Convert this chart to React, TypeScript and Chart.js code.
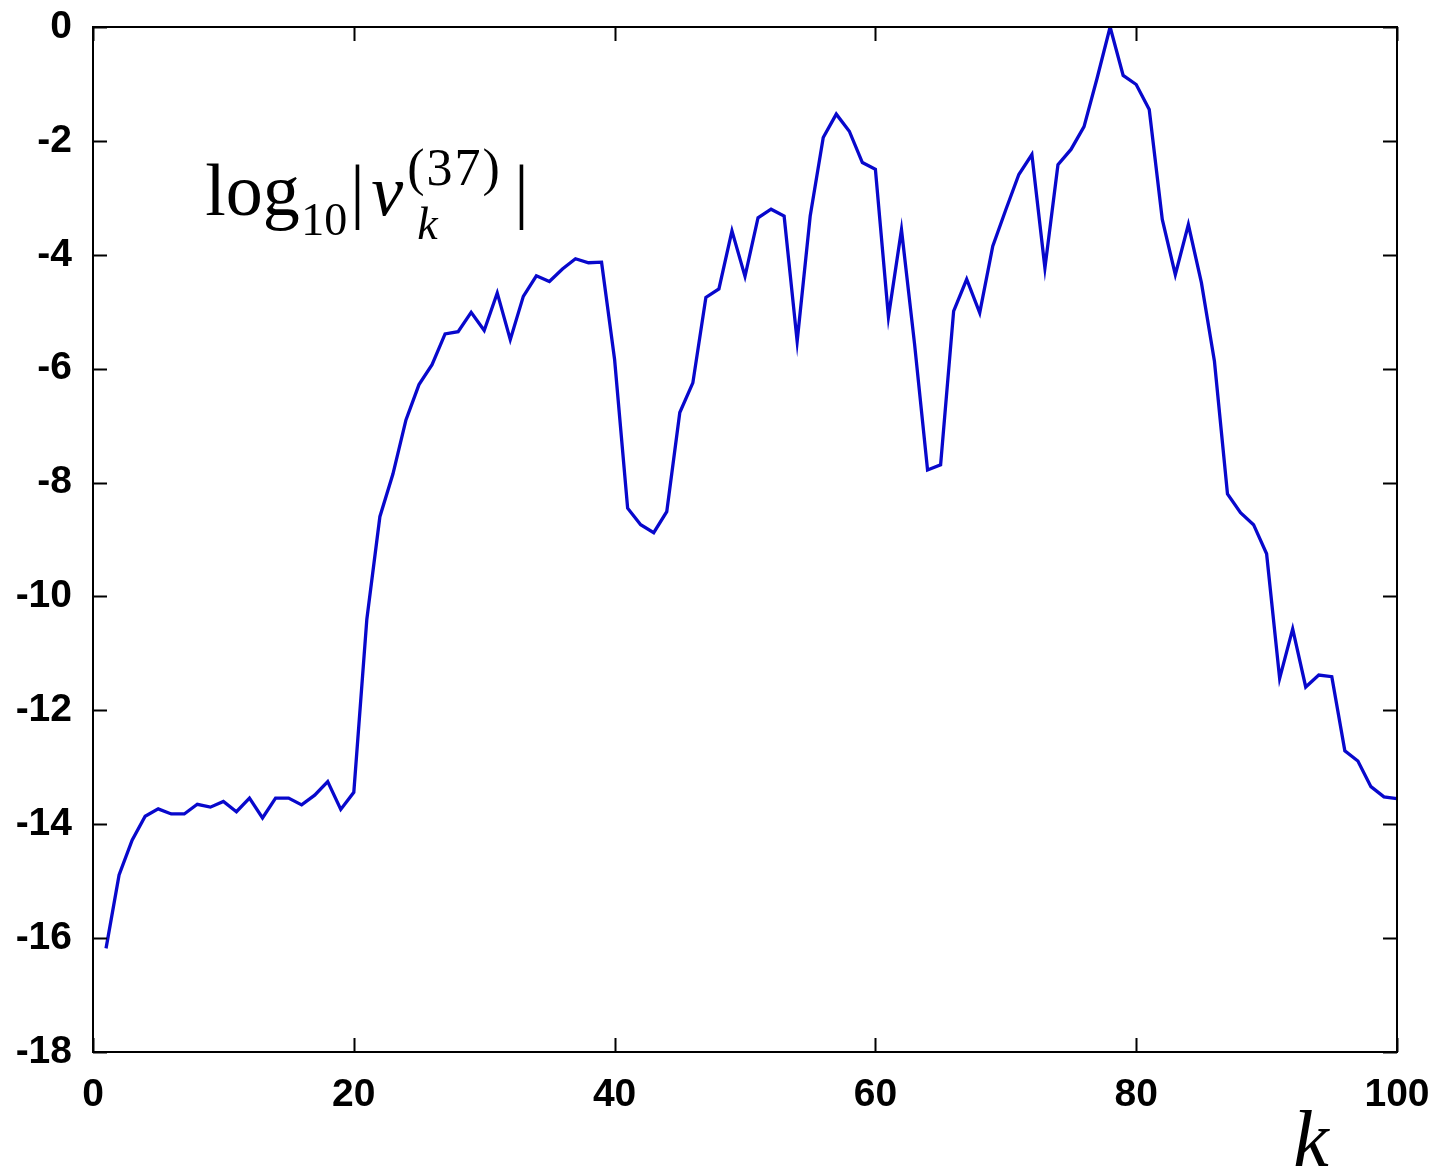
import React, { useEffect, useRef } from "react";
import { Chart, registerables } from "chart.js";

Chart.register(...registerables);

const kValues = [
  1, 2, 3, 4, 5, 6, 7, 8, 9, 10, 11, 12, 13, 14, 15, 16, 17, 18, 19, 20,
  21, 22, 23, 24, 25, 26, 27, 28, 29, 30, 31, 32, 33, 34, 35, 36, 37, 38, 39, 40,
  41, 42, 43, 44, 45, 46, 47, 48, 49, 50, 51, 52, 53, 54, 55, 56, 57, 58, 59, 60,
  61, 62, 63, 64, 65, 66, 67, 68, 69, 70, 71, 72, 73, 74, 75, 76, 77, 78, 79, 80,
  81, 82, 83, 84, 85, 86, 87, 88, 89, 90, 91, 92, 93, 94, 95, 96, 97, 98, 99, 100,
];

const logV = [
  -16.18, -14.89, -14.28, -13.86, -13.73, -13.82, -13.82, -13.65, -13.7, -13.6,
  -13.78, -13.54, -13.89, -13.54, -13.54, -13.66, -13.49, -13.25, -13.74, -13.44,
  -10.4, -8.6, -7.85, -6.9, -6.28, -5.93, -5.39, -5.35, -5.01, -5.33,
  -4.67, -5.49, -4.73, -4.37, -4.47, -4.25, -4.07, -4.14, -4.13, -5.84,
  -8.45, -8.74, -8.88, -8.51, -6.77, -6.25, -4.75, -4.6, -3.58, -4.38,
  -3.35, -3.2, -3.32, -5.52, -3.32, -1.94, -1.53, -1.83, -2.38, -2.5,
  -5.09, -3.56, -5.56, -7.78, -7.69, -4.99, -4.43, -5.02, -3.85, -3.21,
  -2.59, -2.24, -4.23, -2.42, -2.15, -1.75, -0.9, 0, -0.85, -1.01,
  -1.45, -3.38, -4.35, -3.47, -4.49, -5.87, -8.2, -8.53, -8.74, -9.25,
  -11.44, -10.57, -11.59, -11.38, -11.41, -12.71, -12.89, -13.34, -13.52, -13.55,
];

const xTicks = [0, 20, 40, 60, 80, 100];
const yTicks = [0, -2, -4, -6, -8, -10, -12, -14, -16, -18];

const SERIF = "'Liberation Serif', 'DejaVu Serif', serif";
const SANS = "'Liberation Sans', Arial, sans-serif";

const frameAndTicks = {
  id: "frameAndTicks",
  afterDraw(chart: any) {
    const { ctx, chartArea, scales } = chart;
    const { left, right, top, bottom } = chartArea;
    const xs = scales.x;
    const ys = scales.y;
    const tl = 14;
    ctx.save();
    ctx.strokeStyle = "#000";
    ctx.lineWidth = 2;
    ctx.strokeRect(left, top, right - left, bottom - top);
    ctx.beginPath();
    xTicks.forEach((v) => {
      const px = Math.round(xs.getPixelForValue(v)) + 0.5;
      ctx.moveTo(px, bottom);
      ctx.lineTo(px, bottom - tl);
      ctx.moveTo(px, top);
      ctx.lineTo(px, top + tl);
    });
    yTicks.forEach((v) => {
      const py = Math.round(ys.getPixelForValue(v)) + 0.5;
      ctx.moveTo(left, py);
      ctx.lineTo(left + tl, py);
      ctx.moveTo(right, py);
      ctx.lineTo(right - tl, py);
    });
    ctx.stroke();

    // annotation log10|v_k^(37)|
    ctx.fillStyle = "#000";
    ctx.textBaseline = "alphabetic";
    ctx.textAlign = "left";
    const ax = xs.getPixelForValue(8.6);
    const ay = ys.getPixelForValue(-3.3);
    ctx.font = `74px ${SERIF}`;
    ctx.fillText("log", ax, ay);
    ctx.font = `46px ${SERIF}`;
    ctx.fillText("10", ax + 96, ay + 20);
    ctx.font = `72px ${SERIF}`;
    ctx.fillText("|", ax + 145, ay);
    ctx.font = `italic 72px ${SERIF}`;
    ctx.fillText("v", ax + 166, ay);
    ctx.font = `52px ${SERIF}`;
    (ctx as any).letterSpacing = "2px";
    ctx.fillText("(37)", ax + 202, ay - 30);
    (ctx as any).letterSpacing = "0px";
    ctx.font = `italic 46px ${SERIF}`;
    ctx.fillText("k", ax + 212, ay + 24);
    ctx.font = `72px ${SERIF}`;
    ctx.fillText("|", ax + 309, ay);

    // axis label k
    ctx.font = `italic 80px ${SERIF}`;
    ctx.textAlign = "center";
    ctx.fillText("k", xs.getPixelForValue(93.4), bottom + 114);
    ctx.restore();
  },
};

const noPad = (s: any) => {
  s.paddingTop = 0;
  s.paddingBottom = 0;
  s.paddingLeft = 0;
  s.paddingRight = 0;
};

export default function App() {
  const ref = useRef<HTMLCanvasElement | null>(null);

  useEffect(() => {
    if (!ref.current) return;
    const chart = new Chart(ref.current, {
      type: "line",
      data: {
        datasets: [
          {
            data: kValues.map((k, i) => ({ x: k, y: logV[i] })),
            borderColor: "#0808cc",
            borderWidth: 3.3,
            pointRadius: 0,
            tension: 0,
            fill: false,
          },
        ],
      },
      options: {
        responsive: false,
        animation: false,
        events: [],
        layout: { padding: { top: 27, right: 40, left: 0, bottom: 0 } },
        plugins: {
          legend: { display: false },
          tooltip: { enabled: false },
          title: { display: false },
        },
        scales: {
          x: {
            type: "linear",
            min: 0,
            max: 100,
            afterFit: (s: any) => {
              s.height = 124;
              noPad(s);
            },
            afterBuildTicks: (s: any) => {
              s.ticks = xTicks.map((v) => ({ value: v }));
            },
            ticks: {
              color: "#000",
              padding: 20,
              maxRotation: 0,
              font: { family: SANS, size: 39, weight: "bold" },
            },
            grid: { display: false, drawTicks: false },
            border: { display: true, color: "#000", width: 2 },
          },
          y: {
            type: "linear",
            min: -18,
            max: 0,
            afterFit: (s: any) => {
              s.width = 93;
              noPad(s);
            },
            afterBuildTicks: (s: any) => {
              s.ticks = yTicks.map((v) => ({ value: v }));
            },
            ticks: {
              color: "#000",
              padding: 21,
              font: { family: SANS, size: 39, weight: "bold" },
            },
            grid: { display: false, drawTicks: false },
            border: { display: true, color: "#000", width: 2 },
          },
        },
      },
      plugins: [frameAndTicks],
    });
    return () => chart.destroy();
  }, []);

  return (
    <div style={{ position: "absolute", left: 0, top: 0, width: 1437, height: 1176, background: "#fff" }}>
      <canvas ref={ref} width={1437} height={1176} style={{ display: "block" }} />
    </div>
  );
}
